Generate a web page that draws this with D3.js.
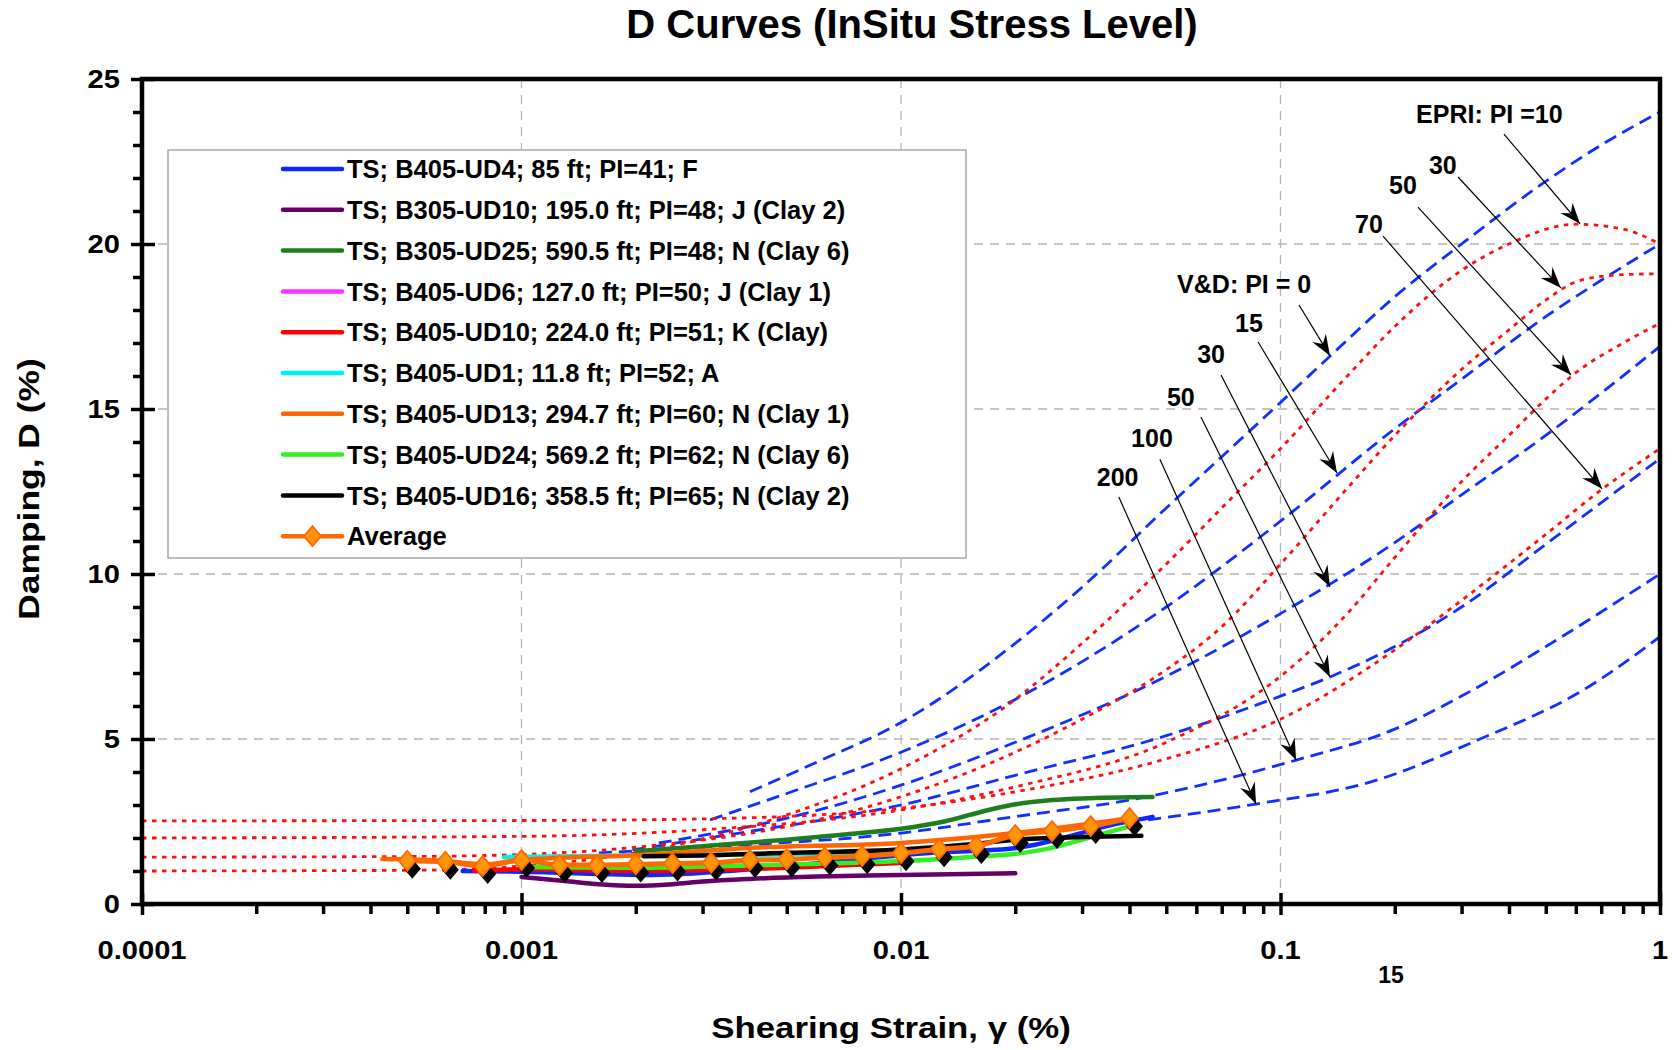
<!DOCTYPE html>
<html lang="en">
<head>
<meta charset="UTF-8">
<title>D Curves</title>
<style>
  body { margin: 0; background: #fff; }
  svg text { font-family: Arial, "Liberation Sans", sans-serif; font-weight: bold; fill: #000; }
</style>
</head>
<body>
<script src="https://d3js.org/d3.v7.min.js"></script>
<div id="chart"></div>
<script>
// ---------- axis ticks ----------
const xTicks = [0.0001, 0.001, 0.01, 0.1, 1]
const xTickLabels = ['0.0001', '0.001', '0.01', '0.1', '1']
const yTicks = [0, 5, 10, 15, 20, 25]
const xGrid = [0.001, 0.01, 0.1]
const yGrid = [5, 10, 15, 20]

// ---------- test data: [strain %, damping %] ----------
const testNames = [
  'TS; B405-UD4; 85 ft; PI=41; F',
  'TS; B305-UD10; 195.0 ft; PI=48; J (Clay 2)',
  'TS; B305-UD25; 590.5 ft; PI=48; N (Clay 6)',
  'TS; B405-UD6; 127.0 ft; PI=50; J (Clay 1)',
  'TS; B405-UD10; 224.0 ft; PI=51; K (Clay)',
  'TS; B405-UD1; 11.8 ft; PI=52; A',
  'TS; B405-UD13; 294.7 ft; PI=60; N (Clay 1)',
  'TS; B405-UD24; 569.2 ft; PI=62; N (Clay 6)',
  'TS; B405-UD16; 358.5 ft; PI=65; N (Clay 2)'
]
const testColors = ['#0a28ff', '#660066', '#1e7d1e', '#ff33ff', '#ff0000', '#00f0f0', '#ff6600', '#33ee22', '#000000']

const ud4 = [[0.0007,1.0],[0.001,0.98],[0.0022,0.88],[0.005,1.15],[0.0121,1.55],[0.0202,1.7],[0.0378,2.45],[0.046,2.64]]
const ud10b305 = [[0.001,0.82],[0.0013,0.7],[0.0016,0.6],[0.002,0.55],[0.0025,0.6],[0.003,0.68],[0.004,0.76],[0.006,0.83],[0.01,0.88],[0.02,0.93]]
const ud25 = [[0.002,1.6],[0.003,1.75],[0.005,1.95],[0.007,2.1],[0.01,2.28],[0.013,2.5],[0.017,2.85],[0.02,3.02],[0.025,3.15],[0.03,3.2],[0.046,3.24]]
const ud6 = [[0.001,1.12],[0.002,1.12],[0.005,1.18],[0.0105,1.25]]
const ud10b405 = [[0.00075,1.0],[0.001,1.05],[0.002,1.0],[0.005,1.1],[0.01,1.25]]
const ud1 = [[0.0009,1.42],[0.002,1.47],[0.005,1.5],[0.01,1.6],[0.012,1.65]]
const ud13 = [[0.00043,1.36],[0.0006,1.32],[0.0008,1.2],[0.001,1.33],[0.002,1.48],[0.004,1.7],[0.01,1.85],[0.02,2.15],[0.04,2.6]]
const ud24 = [[0.001,1.12],[0.002,1.1],[0.005,1.2],[0.01,1.3],[0.015,1.42],[0.02,1.52],[0.025,1.7],[0.03,1.95],[0.04,2.35]]
const ud16 = [[0.0021,1.45],[0.003,1.47],[0.005,1.55],[0.01,1.65],[0.015,1.8],[0.02,1.95],[0.03,2.03],[0.043,2.07]]
const testData = [ud4, ud10b305, ud25, ud6, ud10b405, ud1, ud13, ud24, ud16]

const avgStrain = [0.0005,0.00063,0.00079,0.001,0.00126,0.00158,0.002,0.0025,0.00316,0.004,0.005,0.0063,0.0079,0.01,0.0126,0.0158,0.02,0.025,0.0316,0.04]
const avgDamping = [1.31,1.28,1.15,1.33,1.18,1.18,1.2,1.23,1.25,1.33,1.35,1.41,1.45,1.54,1.66,1.76,2.09,2.21,2.36,2.6]

// ---------- Vucetic & Dobry curves ----------
const vd0 = [[0.004,3.4],[0.006,4.3],[0.01,5.5],[0.02,7.9],[0.03,9.6],[0.05,12.0],[0.1,15.2],[0.135,16.6],[0.2,18.4],[0.3,20.0],[0.5,21.9],[0.7,23.0],[1,24.0]]
const vd15 = [[0.00314,2.55],[0.005,3.35],[0.01,4.6],[0.02,6.2],[0.05,9.0],[0.1,11.6],[0.2,14.4],[0.3,15.9],[0.5,17.8],[0.7,18.9],[1,20.0]]
const vd30 = [[0.0023,1.85],[0.005,2.6],[0.01,3.6],[0.02,4.9],[0.05,6.9],[0.1,8.8],[0.2,10.95],[0.3,12.4],[0.5,14.2],[1,16.9]]
const vd50 = [[0.00196,1.64],[0.004,2.2],[0.0069,2.64],[0.01,3.0],[0.02,3.9],[0.05,5.1],[0.1,6.3],[0.135,6.88],[0.2,7.8],[0.3,9.0],[0.5,10.9],[1,13.5]]
const vd100 = [[0.0016,1.55],[0.003,1.72],[0.01,2.15],[0.02,2.65],[0.04,3.15],[0.11,4.36],[0.2,5.3],[0.3,6.3],[0.5,7.8],[1,10.0]]
const vd200 = [[0.0448,2.55],[0.0862,3.03],[0.173,3.7],[0.331,4.97],[0.631,6.5],[1,8.1]]
const vdCurves = [vd0, vd15, vd30, vd50, vd100, vd200]

// ---------- EPRI curves ----------
const epri10 = [[0.0001,1.0],[0.0005,1.02],[0.001,1.15],[0.002,1.55],[0.005,2.7],[0.01,4.1],[0.02,6.2],[0.03,7.9],[0.05,10.3],[0.07,12.0],[0.1,13.8],[0.15,16.0],[0.2,17.5],[0.3,19.2],[0.4,20.0],[0.6,20.6],[0.8,20.45],[1,20.0]]
const epri30 = [[0.0001,1.42],[0.0005,1.44],[0.001,1.5],[0.002,1.72],[0.005,2.35],[0.01,3.25],[0.02,4.6],[0.03,5.6],[0.05,7.1],[0.07,8.4],[0.1,10.3],[0.15,12.6],[0.2,14.2],[0.3,16.2],[0.4,17.4],[0.5,18.3],[0.6,18.85],[0.75,19.05],[1,19.1]]
const epri50 = [[0.0001,2.0],[0.001,2.05],[0.003,2.25],[0.01,2.85],[0.02,3.55],[0.05,4.9],[0.1,6.9],[0.15,8.8],[0.2,10.5],[0.3,12.8],[0.4,14.2],[0.5,15.3],[0.6,16.1],[0.8,17.0],[1,17.6]]
const epri70 = [[0.0001,2.52],[0.001,2.53],[0.003,2.58],[0.01,2.9],[0.02,3.4],[0.05,4.4],[0.1,5.6],[0.2,7.7],[0.3,9.2],[0.5,11.2],[0.7,12.55],[1,13.8]]
const epriCurves = [epri10, epri30, epri50, epri70]

// ---------- annotations: label at [strain, D], arrow from -> to ----------
const noteText = ['EPRI: PI =10', '30', '50', '70', 'V&D: PI = 0', '15', '30', '50', '100', '200']
const notePos = [[0.2276,23.67],[0.2461,22.12],[0.1932,21.52],[0.1572,20.33],[0.0534,18.52],[0.0759,17.33],[0.0603,16.39],[0.0502,15.09],[0.0404,13.85],[0.0328,12.67]]
const arrowFrom = [[0.388,23.33],[0.2936,22.03],[0.2303,21.12],[0.1863,20.24],[0.1119,18.15],[0.0873,17.03],[0.0697,16.03],[0.0617,14.76],[0.0481,13.48],[0.0375,12.33]]
const arrowTo = [[0.6155,20.61],[0.548,18.67],[0.5828,16.03],[0.7035,12.58],[0.135,16.61],[0.1409,13.06],[0.135,9.61],[0.135,6.88],[0.1099,4.36],[0.0862,3.03]]

// ================================================================
const svg = d3.select('#chart')
  .append('svg')
  .attr('width', 1673)
  .attr('height', 1050)

const x = d3.scaleLog().domain([0.0001, 1]).range([142, 1660])
const y = d3.scaleLinear().domain([0, 25]).range([904, 79])

const line = d3.line()
  .x(d => x(d[0]))
  .y(d => y(d[1]))
  .curve(d3.curveMonotoneX)

// grid
svg.append('g')
  .selectAll('line')
  .data(xGrid)
  .join('line')
  .attr('x1', d => x(d)).attr('x2', d => x(d))
  .attr('y1', y(25)).attr('y2', y(0))
  .attr('stroke', '#b4b4b4').attr('stroke-width', 1.3).attr('stroke-dasharray', '9,7')
svg.append('g')
  .selectAll('line')
  .data(yGrid)
  .join('line')
  .attr('x1', x(0.0001)).attr('x2', x(1))
  .attr('y1', d => y(d)).attr('y2', d => y(d))
  .attr('stroke', '#b4b4b4').attr('stroke-width', 1.3).attr('stroke-dasharray', '9,7')

// legend box (behind curves)
const legend = svg.append('g').attr('transform', 'translate(168,150)')
legend.append('rect')
  .attr('width', 798).attr('height', 408)
  .attr('fill', '#fff').attr('stroke', '#a8a8a8').attr('stroke-width', 1.5)

// reference curves
svg.append('g')
  .selectAll('path')
  .data(vdCurves)
  .join('path')
  .attr('d', line)
  .attr('fill', 'none').attr('stroke', '#1030ff').attr('stroke-width', 2.8)
  .attr('stroke-dasharray', '13,7')

svg.append('g')
  .selectAll('path')
  .data(epriCurves)
  .join('path')
  .attr('d', line)
  .attr('fill', 'none').attr('stroke', '#ff1010').attr('stroke-width', 2.8)
  .attr('stroke-dasharray', '4.5,5.5')

// test data
svg.append('g')
  .selectAll('path')
  .data(testData)
  .join('path')
  .attr('d', line)
  .attr('fill', 'none')
  .attr('stroke', (d, i) => testColors[i])
  .attr('stroke-width', 4.5)
  .attr('stroke-linecap', 'round')

// average
const avg = avgStrain.map((s, i) => [s, avgDamping[i]])
const diamond = 'M0,-10L8.5,0L0,10L-8.5,0Z'
svg.append('path')
  .attr('d', line(avg))
  .attr('fill', 'none').attr('stroke', '#ff6a00').attr('stroke-width', 5)
svg.append('g')
  .selectAll('path')
  .data(avg)
  .join('path')
  .attr('d', diamond)
  .attr('transform', d => `translate(${x(d[0]) + 5},${y(d[1]) + 8})`)
  .attr('fill', '#000')
svg.append('g')
  .selectAll('path')
  .data(avg)
  .join('path')
  .attr('d', diamond)
  .attr('transform', d => `translate(${x(d[0])},${y(d[1])})`)
  .attr('fill', '#ff9408').attr('stroke', '#ff6a00').attr('stroke-width', 1.8)

// annotations
svg.append('defs').append('marker')
  .attr('id', 'head')
  .attr('markerUnits', 'userSpaceOnUse')
  .attr('viewBox', '-22 -9 24 18')
  .attr('markerWidth', 24).attr('markerHeight', 18)
  .attr('refX', 0).attr('refY', 0)
  .attr('orient', 'auto')
  .append('path')
  .attr('d', 'M0,0L-21,-8L-14,0L-21,8Z')
  .attr('fill', '#000')

svg.append('g')
  .selectAll('line')
  .data(arrowFrom)
  .join('line')
  .attr('x1', d => x(d[0])).attr('y1', d => y(d[1]))
  .attr('x2', (d, i) => x(arrowTo[i][0])).attr('y2', (d, i) => y(arrowTo[i][1]))
  .attr('stroke', '#000').attr('stroke-width', 1.2)
  .attr('marker-end', 'url(#head)')

svg.append('g')
  .selectAll('text')
  .data(notePos)
  .join('text')
  .attr('x', d => x(d[0])).attr('y', d => y(d[1]))
  .attr('font-size', 25)
  .text((d, i) => noteText[i])

// frame and ticks
svg.append('rect')
  .attr('x', x(0.0001)).attr('y', y(25))
  .attr('width', x(1) - x(0.0001)).attr('height', y(0) - y(25))
  .attr('fill', 'none').attr('stroke', '#000').attr('stroke-width', 4.5)

const xMinor = x.ticks().filter(v => Math.abs(Math.log10(v) - Math.round(Math.log10(v))) > 1e-6)
svg.append('g').attr('transform', `translate(0,${y(0)})`)
  .call(d3.axisBottom(x).tickValues(xMinor).tickSize(10).tickFormat(''))
const gxMajor = svg.append('g').attr('transform', `translate(0,${y(0)})`)
  .call(d3.axisBottom(x).tickValues(xTicks).tickSize(11).tickFormat(''))
gxMajor.selectAll('.tick line').attr('y1', -11)

const yMinor = d3.range(0, 26).filter(v => v % 5 !== 0)
svg.append('g').attr('transform', `translate(${x(0.0001)},0)`)
  .call(d3.axisLeft(y).tickValues(yMinor).tickSize(9).tickFormat(''))
const gyMajor = svg.append('g').attr('transform', `translate(${x(0.0001)},0)`)
  .call(d3.axisLeft(y).tickValues(yTicks).tickSize(11).tickFormat(''))
gyMajor.selectAll('.tick line').attr('x1', 13)

svg.selectAll('.domain').remove()
svg.selectAll('.tick line').attr('stroke', '#000').attr('stroke-width', 3.5)

// tick labels
svg.append('g')
  .selectAll('text')
  .data(xTicks)
  .join('text')
  .attr('transform', d => `translate(${x(d)},959) scale(1.12,1)`)
  .attr('text-anchor', 'middle')
  .attr('font-size', 26)
  .text((d, i) => xTickLabels[i])

svg.append('g')
  .selectAll('text')
  .data(yTicks)
  .join('text')
  .attr('transform', d => `translate(120,${y(d)}) scale(1.12,1)`)
  .attr('text-anchor', 'end')
  .attr('dy', '0.36em')
  .attr('font-size', 26)
  .text(d => d)

// titles
svg.append('text')
  .attr('x', 912).attr('y', 38)
  .attr('text-anchor', 'middle')
  .attr('font-size', 40)
  .text('D Curves (InSitu Stress Level)')

svg.append('text')
  .attr('transform', 'translate(891,1038) scale(1.16,1)')
  .attr('text-anchor', 'middle')
  .attr('font-size', 30)
  .text('Shearing Strain, γ (%)')

svg.append('text')
  .attr('transform', 'translate(39,489) rotate(-90) scale(1.18,1)')
  .attr('text-anchor', 'middle')
  .attr('font-size', 30)
  .text('Damping, D (%)')

svg.append('text')
  .attr('x', 1391).attr('y', 983)
  .attr('text-anchor', 'middle')
  .attr('font-size', 23)
  .text('15')

// legend entries
const legendRows = testNames.concat(['Average'])
const rows = legend.selectAll('g.row')
  .data(legendRows)
  .join('g')
  .attr('class', 'row')
  .attr('transform', (d, i) => `translate(0,${19 + i * 40.8})`)
rows.append('line')
  .attr('x1', 115).attr('x2', 174)
  .attr('stroke', (d, i) => i < testColors.length ? testColors[i] : '#ff6a00')
  .attr('stroke-width', 4.5)
  .attr('stroke-linecap', 'round')
rows.append('text')
  .attr('x', 179).attr('dy', '0.36em')
  .attr('font-size', 25.5)
  .text(d => d)
rows.filter(d => d === 'Average')
  .append('path')
  .attr('d', diamond)
  .attr('transform', 'translate(144.5,0)')
  .attr('fill', '#ff9408').attr('stroke', '#ff6a00').attr('stroke-width', 1.8)
</script>
</body>
</html>
